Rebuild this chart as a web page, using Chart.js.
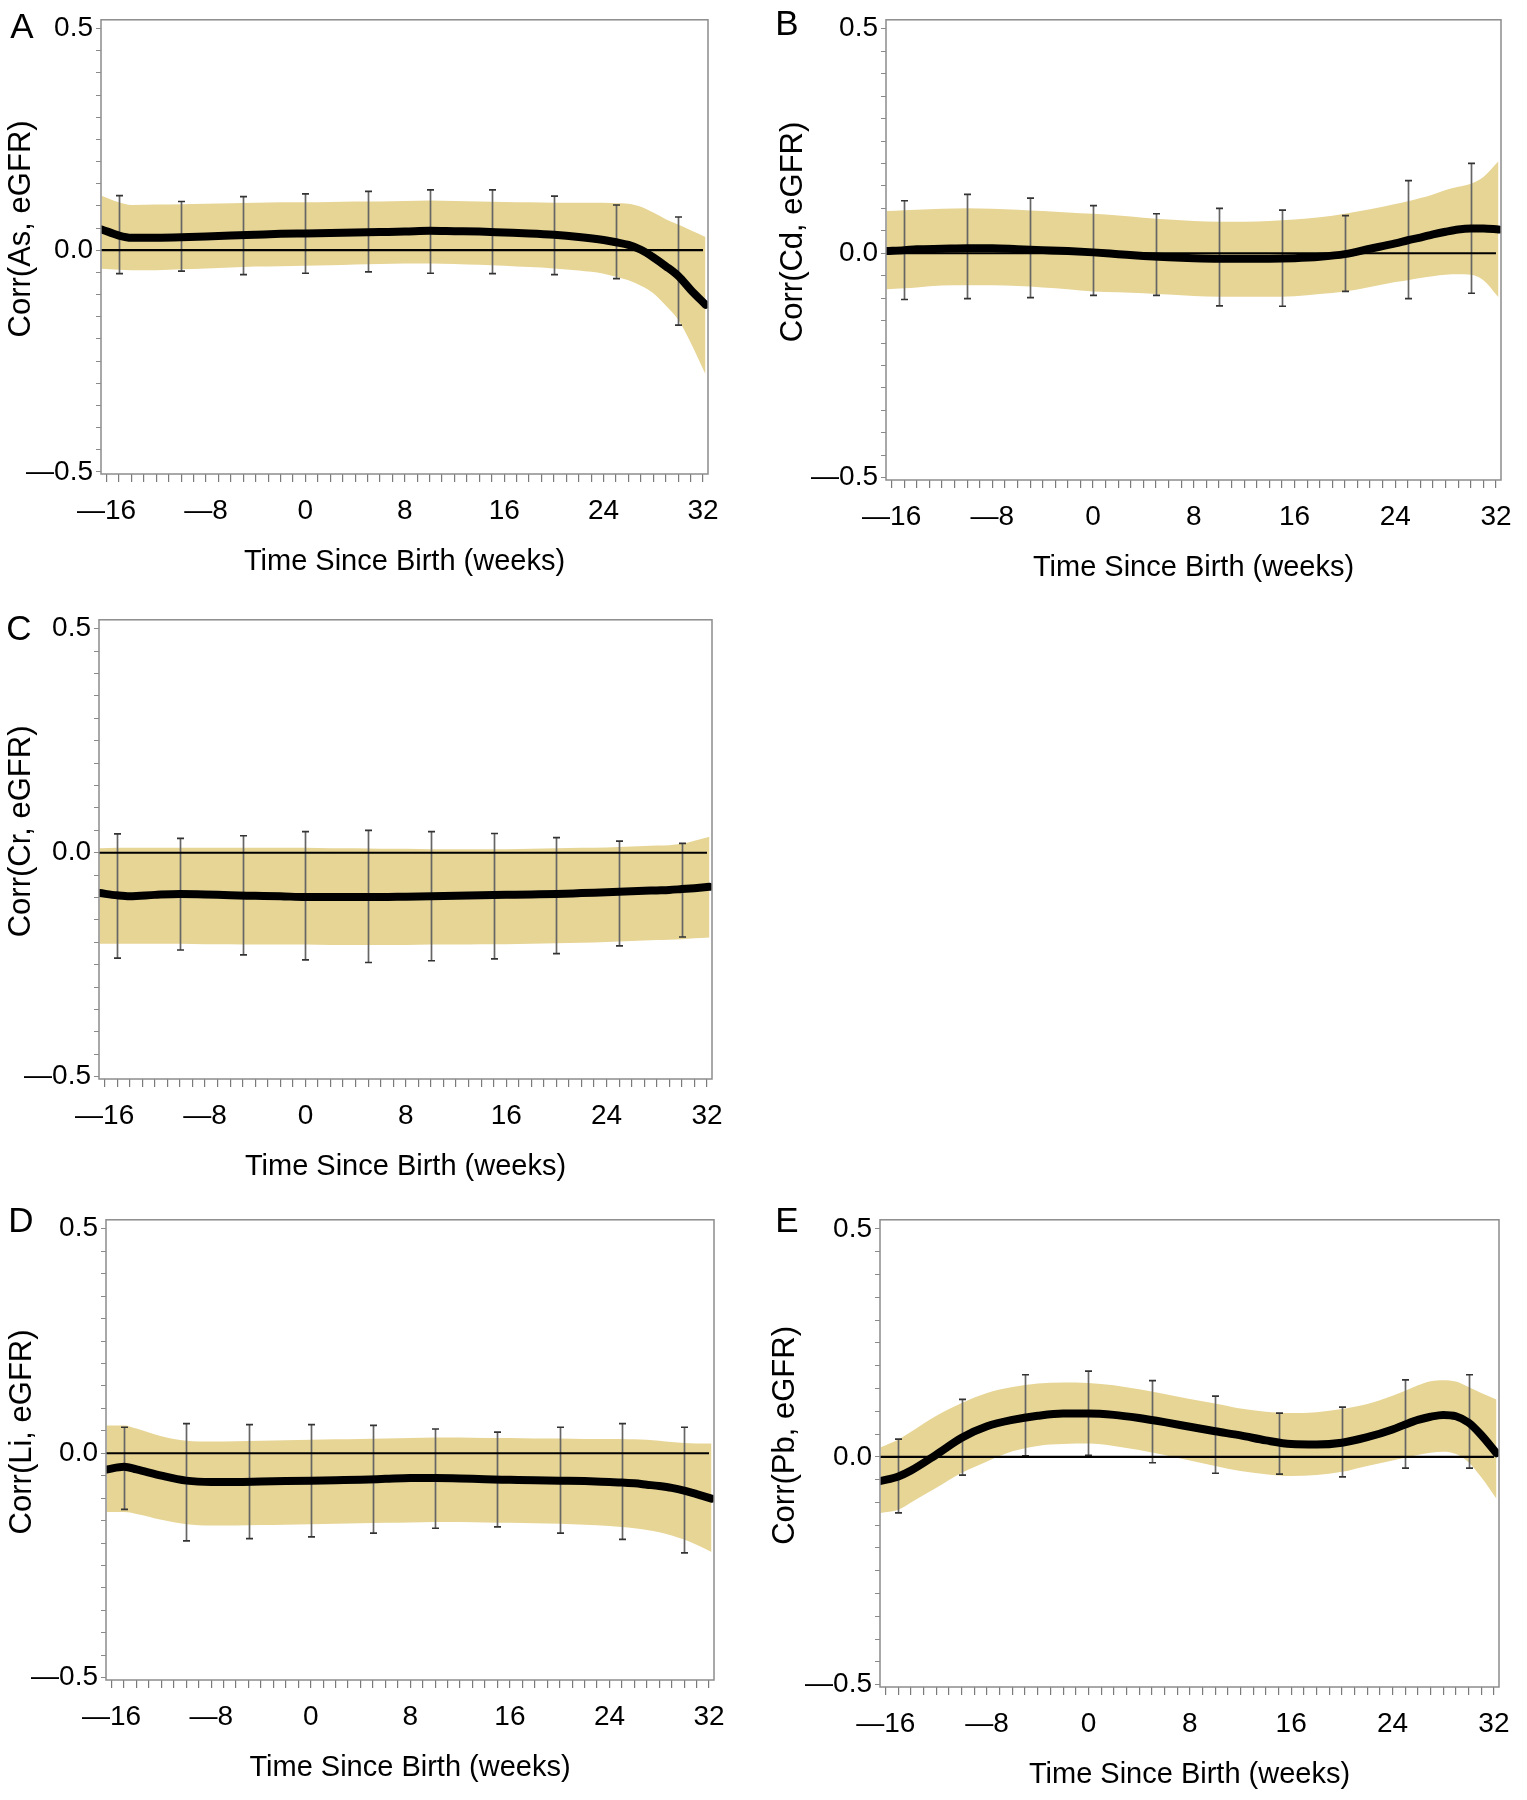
<!DOCTYPE html>
<html>
<head>
<meta charset="utf-8">
<script src="https://cdn.jsdelivr.net/npm/chart.js@4.4.1/dist/chart.umd.min.js"></script>
<style>
body { margin: 0; background: #fff; }
#wrap { position: relative; width: 1527px; height: 1800px; font-family: "Liberation Sans", Arial, sans-serif; }
#wrap canvas { position: absolute; }
.tag { position: absolute; font-size: 35px; line-height: 1; color: #000; transform: translate(-50%, -50%); }
</style>
</head>
<body>
<div id="wrap"></div>
<script>
const weeks = [-16.4, -15, -14, -12, -10, -8, -6, -4, -2, 0, 2, 4, 6, 8, 10, 12, 14, 16, 18, 20, 22, 24, 25, 26, 27, 28, 29, 30, 31, 32.2]
// weeks of the error bars
const errWeeks = [-15, -10, -5, 0, 5, 10, 15, 20, 25, 30]
const xLabelWeeks = [-16, -8, 0, 8, 16, 24, 32]
const yLabelValues = [-0.5, 0, 0.5]

// A - As
const asEst = [0.047, 0.033, 0.028, 0.028, 0.029, 0.031, 0.033, 0.035, 0.037, 0.038, 0.039, 0.040, 0.041, 0.042, 0.044, 0.043, 0.042, 0.040, 0.038, 0.035, 0.030, 0.023, 0.018, 0.012, 0.001, -0.016, -0.036, -0.058, -0.089, -0.123]
const asUpper = [0.123, 0.108, 0.102, 0.103, 0.104, 0.105, 0.106, 0.107, 0.108, 0.108, 0.109, 0.110, 0.110, 0.111, 0.112, 0.111, 0.110, 0.109, 0.108, 0.107, 0.107, 0.107, 0.106, 0.105, 0.098, 0.085, 0.070, 0.058, 0.045, 0.030]
const asLower = [-0.042, -0.044, -0.045, -0.045, -0.043, -0.041, -0.039, -0.037, -0.036, -0.035, -0.034, -0.032, -0.031, -0.030, -0.030, -0.031, -0.033, -0.035, -0.038, -0.041, -0.046, -0.053, -0.060, -0.068, -0.080, -0.097, -0.125, -0.157, -0.208, -0.280]
const asErrLow = [-0.053, -0.047, -0.055, -0.052, -0.049, -0.052, -0.053, -0.055, -0.064, -0.169]
const asErrHigh = [0.123, 0.110, 0.121, 0.127, 0.133, 0.136, 0.136, 0.122, 0.102, 0.075]

// B - Cd
const cdEst = [0.005, 0.007, 0.009, 0.010, 0.011, 0.011, 0.009, 0.007, 0.005, 0.002, -0.002, -0.006, -0.009, -0.011, -0.012, -0.012, -0.012, -0.011, -0.008, -0.002, 0.010, 0.022, 0.029, 0.035, 0.042, 0.048, 0.053, 0.055, 0.055, 0.053]
const cdUpper = [0.094, 0.096, 0.097, 0.099, 0.100, 0.099, 0.097, 0.094, 0.091, 0.088, 0.084, 0.079, 0.075, 0.072, 0.070, 0.070, 0.072, 0.075, 0.080, 0.088, 0.098, 0.110, 0.116, 0.123, 0.131, 0.141, 0.148, 0.155, 0.170, 0.205]
const cdLower = [-0.080, -0.078, -0.076, -0.072, -0.071, -0.071, -0.073, -0.076, -0.080, -0.085, -0.087, -0.089, -0.092, -0.095, -0.097, -0.097, -0.097, -0.096, -0.091, -0.085, -0.075, -0.064, -0.060, -0.055, -0.051, -0.048, -0.047, -0.048, -0.060, -0.098]
const cdErrLow = [-0.103, -0.101, -0.099, -0.094, -0.094, -0.117, -0.118, -0.085, -0.101, -0.089]
const cdErrHigh = [0.117, 0.131, 0.123, 0.106, 0.088, 0.100, 0.096, 0.084, 0.162, 0.200]

// C - Cr
const crEst = [-0.090, -0.095, -0.097, -0.094, -0.092, -0.093, -0.095, -0.096, -0.097, -0.099, -0.099, -0.099, -0.099, -0.098, -0.097, -0.096, -0.095, -0.094, -0.093, -0.092, -0.090, -0.088, -0.087, -0.086, -0.085, -0.084, -0.083, -0.081, -0.079, -0.076]
const crUpper = [0.010, 0.011, 0.011, 0.011, 0.011, 0.011, 0.011, 0.011, 0.011, 0.011, 0.010, 0.010, 0.009, 0.009, 0.008, 0.008, 0.008, 0.008, 0.009, 0.010, 0.011, 0.012, 0.013, 0.014, 0.015, 0.016, 0.017, 0.020, 0.027, 0.036]
const crLower = [-0.203, -0.203, -0.203, -0.203, -0.203, -0.204, -0.204, -0.205, -0.205, -0.205, -0.206, -0.206, -0.206, -0.206, -0.205, -0.205, -0.204, -0.204, -0.203, -0.202, -0.201, -0.199, -0.198, -0.197, -0.196, -0.195, -0.194, -0.193, -0.191, -0.189]
const crErrLow = [-0.235, -0.217, -0.228, -0.239, -0.245, -0.241, -0.237, -0.225, -0.208, -0.188]
const crErrHigh = [0.042, 0.032, 0.038, 0.047, 0.050, 0.047, 0.043, 0.034, 0.026, 0.021]

// D - Li
const liEst = [-0.036, -0.030, -0.036, -0.050, -0.061, -0.064, -0.064, -0.063, -0.062, -0.061, -0.060, -0.059, -0.057, -0.055, -0.055, -0.056, -0.058, -0.059, -0.060, -0.061, -0.062, -0.064, -0.065, -0.067, -0.070, -0.073, -0.077, -0.083, -0.091, -0.101]
const liUpper = [0.062, 0.062, 0.055, 0.038, 0.028, 0.026, 0.027, 0.028, 0.029, 0.030, 0.031, 0.032, 0.033, 0.034, 0.035, 0.035, 0.034, 0.034, 0.033, 0.033, 0.032, 0.032, 0.032, 0.031, 0.030, 0.028, 0.025, 0.023, 0.022, 0.022]
const liLower = [-0.131, -0.131, -0.135, -0.148, -0.158, -0.161, -0.161, -0.160, -0.159, -0.158, -0.157, -0.156, -0.155, -0.154, -0.153, -0.153, -0.154, -0.155, -0.156, -0.157, -0.159, -0.162, -0.164, -0.167, -0.171, -0.176, -0.183, -0.192, -0.204, -0.220]
const liErrLow = [-0.125, -0.195, -0.190, -0.186, -0.178, -0.167, -0.164, -0.178, -0.192, -0.222]
const liErrHigh = [0.058, 0.066, 0.064, 0.064, 0.062, 0.054, 0.047, 0.058, 0.066, 0.058]

// E - Pb
const pbEst = [-0.053, -0.043, -0.030, 0.005, 0.042, 0.067, 0.081, 0.090, 0.095, 0.095, 0.092, 0.085, 0.076, 0.066, 0.056, 0.047, 0.036, 0.028, 0.027, 0.031, 0.043, 0.060, 0.071, 0.081, 0.088, 0.092, 0.089, 0.075, 0.048, 0.008]
const pbUpper = [0.021, 0.038, 0.055, 0.090, 0.118, 0.140, 0.153, 0.161, 0.163, 0.162, 0.157, 0.148, 0.138, 0.127, 0.117, 0.106, 0.099, 0.096, 0.098, 0.105, 0.116, 0.134, 0.145, 0.157, 0.166, 0.168, 0.165, 0.153, 0.140, 0.126]
const pbLower = [-0.123, -0.116, -0.100, -0.068, -0.035, -0.010, 0.012, 0.024, 0.028, 0.029, 0.024, 0.015, 0.004, -0.008, -0.020, -0.031, -0.038, -0.042, -0.040, -0.033, -0.020, -0.008, -0.002, 0.004, 0.009, 0.011, 0.006, -0.012, -0.045, -0.092]
const pbErrLow = [-0.123, -0.040, 0.002, 0.003, -0.013, -0.036, -0.038, -0.044, -0.025, -0.025]
const pbErrHigh = [0.039, 0.126, 0.180, 0.188, 0.167, 0.133, 0.096, 0.109, 0.169, 0.180]

const bandColor = '#e7d596'
const fontFamily = '"Liberation Sans", Arial, sans-serif'
const canvasW = 767, canvasH = 600, xAxisH = 105

Chart.defaults.font.family = fontFamily
Chart.defaults.color = '#000'

// canvas = top-left of canvas, area = [left, top, right, bottom] of the plot frame
// titleX = centre of the rotated y title inside the canvas
const panels = [
    {tag: 'A', title: 'Corr(As, eGFR)', est: asEst, upper: asUpper, lower: asLower, errLow: asErrLow, errHigh: asErrHigh, canvas: [0, 0], area: [101, 16, 708, 474], tagAt: [22, 25], titleX: 21},
    {tag: 'B', title: 'Corr(Cd, eGFR)', est: cdEst, upper: cdUpper, lower: cdLower, errLow: cdErrLow, errHigh: cdErrHigh, canvas: [760, 0], area: [886, 14, 1501, 480], tagAt: [787, 22], titleX: 33},
    {tag: 'C', title: 'Corr(Cr, eGFR)', est: crEst, upper: crUpper, lower: crLower, errLow: crErrLow, errHigh: crErrHigh, canvas: [0, 600], area: [99, 612, 712, 1079], tagAt: [19, 627], titleX: 21},
    {tag: 'D', title: 'Corr(Li, eGFR)', est: liEst, upper: liUpper, lower: liLower, errLow: liErrLow, errHigh: liErrHigh, canvas: [0, 1200], area: [106, 1216, 714, 1680], tagAt: [21, 1219], titleX: 22},
    {tag: 'E', title: 'Corr(Pb, eGFR)', est: pbEst, upper: pbUpper, lower: pbLower, errLow: pbErrLow, errHigh: pbErrHigh, canvas: [760, 1200], area: [880, 1216, 1499, 1687], tagAt: [787, 1219], titleX: 25},
]

const fmtWeek = v => v < 0 ? '\u2014' + Math.abs(v) : String(v)
const fmtCorr = v => v === 0 ? '0.0' : (v < 0 ? '\u2014' + Math.abs(v).toFixed(1) : v.toFixed(1))

// error bars + zero line go right after the band, frame and y title at the very end
const extras = {
    id: 'extras',
    afterDatasetDraw(chart, args, opts) {
        if (args.index !== 1) return
        const {ctx, chartArea} = chart
        const x = chart.scales.x, y = chart.scales.y
        ctx.save()
        ctx.lineWidth = 1.7
        opts.low.forEach((lo, i) => {
            const px = Math.round(x.getPixelForValue(errWeeks[i])) + 0.5
            const y1 = y.getPixelForValue(lo)
            const y2 = y.getPixelForValue(opts.high[i])
            ctx.strokeStyle = '#666'
            ctx.beginPath()
            ctx.moveTo(px, y1)
            ctx.lineTo(px, y2)
            ctx.stroke()
            ctx.strokeStyle = '#333'
            ctx.beginPath()
            ctx.moveTo(px - 3.5, y1)
            ctx.lineTo(px + 3.5, y1)
            ctx.moveTo(px - 3.5, y2)
            ctx.lineTo(px + 3.5, y2)
            ctx.stroke()
        })
        const y0 = y.getPixelForValue(0)
        ctx.strokeStyle = '#000'
        ctx.lineWidth = 2.2
        ctx.beginPath()
        ctx.moveTo(chartArea.left, y0)
        ctx.lineTo(x.getPixelForValue(32), y0)
        ctx.stroke()
        ctx.restore()
    },
    afterDraw(chart, args, opts) {
        const {ctx, chartArea: a} = chart
        ctx.save()
        ctx.strokeStyle = '#8c8c8c'
        ctx.lineWidth = 1.5
        ctx.strokeRect(a.left, a.top, a.right - a.left, a.bottom - a.top)
        // y title sits a bit above the middle of the frame, like the original
        ctx.translate(opts.titleX, (a.top + a.bottom) / 2 - 18)
        ctx.rotate(-Math.PI / 2)
        ctx.font = '31px ' + fontFamily
        ctx.fillStyle = '#000'
        ctx.textAlign = 'center'
        ctx.textBaseline = 'middle'
        ctx.fillText(opts.title, 0, 0)
        ctx.restore()
    }
}

const wrap = document.getElementById('wrap')

panels.forEach(p => {
    const cv = document.createElement('canvas')
    cv.width = canvasW
    cv.height = canvasH
    cv.style.left = p.canvas[0] + 'px'
    cv.style.top = p.canvas[1] + 'px'
    wrap.appendChild(cv)

    const tag = document.createElement('div')
    tag.className = 'tag'
    tag.textContent = p.tag
    tag.style.left = p.tagAt[0] + 'px'
    tag.style.top = p.tagAt[1] + 'px'
    wrap.appendChild(tag)

    const pts = arr => weeks.map((w, i) => ({x: w, y: arr[i]}))

    new Chart(cv.getContext('2d'), {
        type: 'line',
        data: {
            datasets: [
                {data: pts(p.lower), borderWidth: 0, pointRadius: 0, fill: false, order: 3, cubicInterpolationMode: 'monotone'},
                {data: pts(p.upper), borderWidth: 0, pointRadius: 0, fill: '-1', backgroundColor: bandColor, order: 2, cubicInterpolationMode: 'monotone'},
                {data: pts(p.est), borderColor: '#000', borderWidth: 8, pointRadius: 0, fill: false, order: 0, cubicInterpolationMode: 'monotone', borderCapStyle: 'round'}
            ]
        },
        options: {
            responsive: false,
            animation: false,
            layout: {
                padding: {
                    left: 0,
                    top: p.area[1] - p.canvas[1],
                    right: p.canvas[0] + canvasW - p.area[2],
                    bottom: p.canvas[1] + canvasH - p.area[3] - xAxisH
                }
            },
            plugins: {
                legend: {display: false},
                tooltip: {enabled: false},
                extras: {low: p.errLow, high: p.errHigh, title: p.title, titleX: p.titleX}
            },
            scales: {
                x: {
                    type: 'linear',
                    min: -16.45,
                    max: 32.4,
                    border: {display: false},
                    grid: {drawOnChartArea: false, tickLength: 8, color: '#7a7a7a', lineWidth: 1.2},
                    ticks: {
                        stepSize: 1, autoSkip: false, maxRotation: 0, includeBounds: false, padding: 12,
                        font: {size: 28},
                        callback: v => xLabelWeeks.includes(v) ? fmtWeek(v) : ''
                    },
                    title: {display: true, text: 'Time Since Birth (weeks)', font: {size: 29}, padding: {top: 0, bottom: 0}},
                    afterFit: s => { s.height = xAxisH }
                },
                y: {
                    min: -0.505,
                    max: 0.52,
                    border: {display: false},
                    grid: {drawOnChartArea: false, tickLength: 5, color: '#8a8a8a'},
                    ticks: {
                        stepSize: 0.05, autoSkip: false, includeBounds: false, padding: 3,
                        font: {size: 28},
                        callback: v => {
                            const r = Math.round(v * 100) / 100
                            return yLabelValues.includes(r) ? fmtCorr(r) : ''
                        }
                    },
                    title: {display: false},
                    afterFit: s => { s.width = p.area[0] - p.canvas[0] }
                }
            }
        },
        plugins: [extras]
    })
})
</script>
</body>
</html>
